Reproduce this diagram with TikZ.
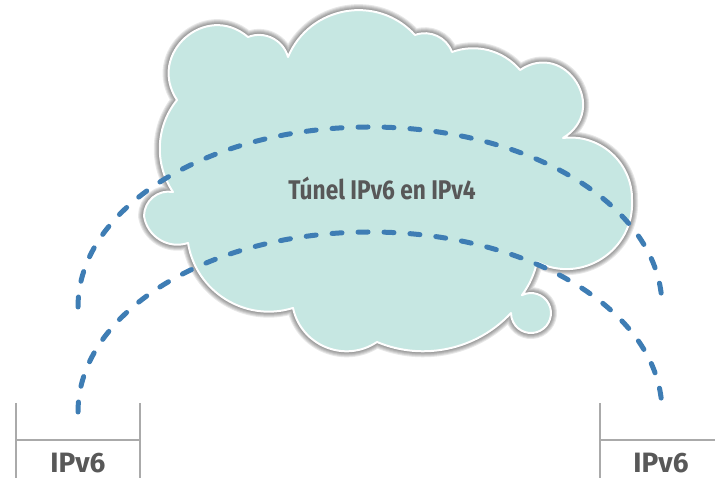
\documentclass[tikz,border=0pt]{standalone}
\usepackage{fontspec}
\setmainfont{Fira Sans}
\usetikzlibrary{topaths}

\definecolor{cloudfill}{RGB}{198,231,226}
\definecolor{tunnelblue}{RGB}{62,125,180}
\definecolor{labelgray}{RGB}{88,88,88}
\definecolor{bracketgray}{RGB}{170,170,170}

\tikzset{
  % circular-looking lobe between two points, #1 = swept angle in degrees
  lobe/.code={%
    \pgfmathsetmacro\lobehalf{#1/2}%
    \pgfmathsetmacro\lobeloose{(2/3)*tan(#1/4)/sin(#1/2)/0.3915}%
    \edef\lobeopts{/tikz/bend left=\lobehalf,/tikz/looseness=\lobeloose}%
    \expandafter\pgfkeysalso\expandafter{\lobeopts}},
  cloudbody/.style={fill=cloudfill, draw=white, line width=2pt, line join=round},
  dasharc/.style={draw=tunnelblue, line width=5pt, line cap=round,
    dash pattern=on 10pt off 16pt},
  bracket/.style={draw=bracketgray, line width=2pt},
  biglabel/.style={text=labelgray, font=\bfseries\fontsize{28}{28}\selectfont,
    inner sep=0pt, anchor=base},
  tunlabel/.style={text=labelgray, font=\bfseries\fontsize{27}{27}\selectfont,
    inner sep=0pt}
}

\begin{document}
\begin{tikzpicture}[x=1pt,y=1pt]
\useasboundingbox (0,0) rectangle (715,478);

% notch points of the cloud outline
\coordinate (A) at (177,378);
\coordinate (B) at (248,441);
\coordinate (C) at (288,421);
\coordinate (D) at (415,443);
\coordinate (E) at (452,426);
\coordinate (F) at (520,408);
\coordinate (G) at (563,340);
\coordinate (R) at (632,278);
\coordinate (H) at (537,216);
\coordinate (I) at (521.9,182.8);
\coordinate (L) at (377,136);
\coordinate (M) at (293,170);
\coordinate (N) at (188,235);
\coordinate (Q) at (144,262);
\coordinate (P) at (173,286);

\def\cloudpath{(A) to[lobe=164] (B) to[lobe=96] (C) to[lobe=115] (D)
  to[lobe=90] (E) to[lobe=70] (F) to[lobe=183] (G) to[lobe=98] (R)
  to[lobe=120] (H) to[lobe=25] (I) arc[start angle=117,end angle=-180,radius=20]
  to[lobe=70] (L) to[lobe=112] (M) to[lobe=98] (N) to[lobe=100] (Q)
  to[lobe=100] (P) to[lobe=73] (A) -- cycle}

% soft drop shadow, built from widening layers
\foreach \k in {1,...,6}{
  \begin{scope}[transparency group, opacity=0.09]
    \path[fill=black, draw=black, line width=2*\k pt, line join=round,
      shift={(1.5,-2)}] \cloudpath;
  \end{scope}
}

% the cloud itself
\path[cloudbody] \cloudpath;

\node[tunlabel] (tun) at (382,290) {\scalebox{0.84}[1]{Túnel IPv6 en IPv4}};

% two tunnel arcs
\coordinate (o1) at (78,171);
\coordinate (i1) at (78,66);
\draw[dasharc] (o1) arc[start angle=180, end angle=0, x radius=292, y radius=180];
\draw[dasharc] (i1) arc[start angle=180, end angle=0, x radius=292, y radius=180];

% end-point brackets
\draw[bracket] (16,75) -- (16,0);
\draw[bracket] (140,75) -- (140,0);
\draw[bracket] (16,38) -- (140,38);
\draw[bracket] (600,75) -- (600,0);
\draw[bracket] (600,38) -- (715,38);

\node[biglabel] (left) at (78,5) {IPv6};
\node[biglabel] (right) at (661,5) {IPv6};
\end{tikzpicture}
\end{document}
